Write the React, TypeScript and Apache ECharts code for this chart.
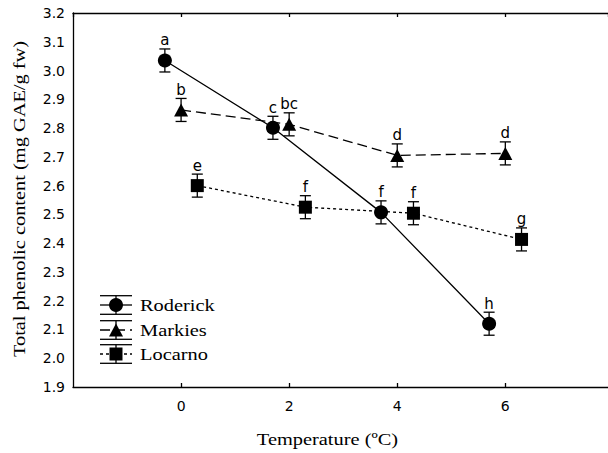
import React, { useEffect, useRef } from "react";
import * as echarts from "echarts";

const seriesNames = ["Roderick", "Markies", "Locarno"];
const roderickX = [-0.3, 1.7, 3.7, 5.7];
const roderickY = [3.035, 2.801, 2.507, 2.12];
const roderickErr = [0.04, 0.04, 0.04, 0.04];
const roderickLetters = ["a", "c", "f", "h"];
const markiesX = [0, 2, 4, 6];
const markiesY = [2.863, 2.813, 2.705, 2.712];
const markiesErr = [0.04, 0.04, 0.04, 0.04];
const markiesLetters = ["b", "bc", "d", "d"];
const locarnoX = [0.3, 2.3, 4.3, 6.3];
const locarnoY = [2.6, 2.525, 2.504, 2.413];
const locarnoErr = [0.04, 0.04, 0.04, 0.04];
const locarnoLetters = ["e", "f", "f", "g"];
const xTicks = [0, 2, 4, 6];

const groups = [
  { name: seriesNames[0], x: roderickX, y: roderickY, err: roderickErr, letters: roderickLetters, symbol: "circle", size: 14, dash: "solid" as any },
  { name: seriesNames[1], x: markiesX, y: markiesY, err: markiesErr, letters: markiesLetters, symbol: "triangle", size: [14, 13], dash: [10, 5] as any },
  { name: seriesNames[2], x: locarnoX, y: locarnoY, err: locarnoErr, letters: locarnoLetters, symbol: "rect", size: 13, dash: [3, 3] as any },
];

export default function App() {
  const ref = useRef<HTMLDivElement>(null);
  useEffect(() => {
    if (!ref.current) return;
    const chart = echarts.init(ref.current, null, { renderer: "svg" });
    const series: any[] = [];
    groups.forEach((g) => {
      series.push({
        type: "line",
        name: g.name,
        data: g.x.map((x, i) => [x, g.y[i]]),
        symbol: g.symbol,
        symbolSize: g.size,
        showAllSymbol: true,
        itemStyle: { color: "#000" },
        lineStyle: { color: "#000", width: 1.3, type: g.dash },
        z: 3,
      });
      series.push({
        type: "custom",
        name: g.name + " err",
        data: g.x.map((x, i) => [x, g.y[i], g.err[i]]),
        z: 4,
        renderItem: (params: any, api: any) => {
          const x = api.value(0);
          const y = api.value(1);
          const e = api.value(2);
          const top = api.coord([x, y + e]);
          const bot = api.coord([x, y - e]);
          const hw = 5.5;
          const st = { stroke: "#000", lineWidth: 1.3 };
          return {
            type: "group",
            children: [
              { type: "line", shape: { x1: top[0], y1: top[1], x2: bot[0], y2: bot[1] }, style: st },
              { type: "line", shape: { x1: top[0] - hw, y1: top[1], x2: top[0] + hw, y2: top[1] }, style: st },
              { type: "line", shape: { x1: bot[0] - hw, y1: bot[1], x2: bot[0] + hw, y2: bot[1] }, style: st },
              {
                type: "text",
                x: top[0],
                y: top[1] - 1,
                style: {
                  text: g.letters[params.dataIndex],
                  textAlign: "center",
                  textVerticalAlign: "bottom",
                  font: "15px 'DejaVu Sans'",
                  fill: "#000",
                },
              },
            ],
          };
        },
      });
    });

    const legendRows = [305, 330, 354];
    const legendGraphics: any[] = [];
    groups.forEach((g, i) => {
      const cy = legendRows[i];
      const x0 = 100, x1 = 132, cx = 116;
      const st = { stroke: "#000", lineWidth: 1.3 };
      legendGraphics.push(
        { type: "line", shape: { x1: x0, y1: cy - 9.3, x2: x1, y2: cy - 9.3 }, style: st },
        { type: "line", shape: { x1: x0, y1: cy + 9.3, x2: x1, y2: cy + 9.3 }, style: st },
        { type: "line", shape: { x1: cx, y1: cy - 9.3, x2: cx, y2: cy + 9.3 }, style: st },
        { type: "line", shape: { x1: x0, y1: cy, x2: x1, y2: cy }, style: { stroke: "#000", lineWidth: 1.3, lineDash: g.dash === "solid" ? null : g.dash } }
      );
      if (g.symbol === "circle") {
        legendGraphics.push({ type: "circle", shape: { cx, cy, r: 7 }, style: { fill: "#000" } });
      } else if (g.symbol === "triangle") {
        legendGraphics.push({ type: "polygon", shape: { points: [[cx, cy - 6.5], [cx - 7, cy + 6.5], [cx + 7, cy + 6.5]] }, style: { fill: "#000" } });
      } else {
        legendGraphics.push({ type: "rect", shape: { x: cx - 6.5, y: cy - 6.5, width: 13, height: 13 }, style: { fill: "#000" } });
      }
      legendGraphics.push({
        type: "text",
        x: 140,
        y: cy,
        scaleX: 1.2,
        style: { text: g.name, font: "17px 'Liberation Serif'", fill: "#000", textVerticalAlign: "middle", textAlign: "left" },
      });
    });

    const axisCommon = {
      type: "value",
      min: -2,
      max: 7.9,
      interval: 2,
      splitLine: { show: false },
      axisLine: { show: true, onZero: false, lineStyle: { color: "#000", width: 1.3 } },
      axisTick: { show: true, inside: true, length: 4, lineStyle: { color: "#000", width: 1.3 } },
    };

    chart.setOption({
      animation: false,
      backgroundColor: "#fff",
      grid: { left: 73, top: 13, right: 0, bottom: 66, containLabel: false },
      xAxis: [
        {
          ...axisCommon,
          position: "bottom",
          axisLabel: {
            margin: 12,
            color: "#000",
            fontSize: 14,
            fontFamily: "DejaVu Sans",
            showMinLabel: false,
            showMaxLabel: false,
            formatter: (v: number) => (xTicks.includes(v) ? String(v) : ""),
          },
        },
        { ...axisCommon, position: "top", axisLabel: { show: false } },
      ],
      yAxis: {
        type: "value",
        min: 1.9,
        max: 3.2,
        interval: 0.1,
        splitLine: { show: false },
        axisLine: { show: true, onZero: false, lineStyle: { color: "#000", width: 1.3 } },
        axisTick: { show: false },
        axisLabel: {
          margin: 8,
          color: "#000",
          fontSize: 14,
          fontFamily: "DejaVu Sans",
          formatter: (v: number) => v.toFixed(1),
        },
      },
      graphic: [
        ...legendGraphics,
        {
          type: "text",
          x: 327.5,
          y: 439,
          scaleX: 1.2,
          style: { text: "Temperature (ºC)", font: "17px 'Liberation Serif'", fill: "#000", textAlign: "center", textVerticalAlign: "middle" },
        },
        {
          type: "text",
          x: 19.5,
          y: 199,
          rotation: Math.PI / 2,
          scaleX: 1.2,
          style: { text: "Total phenolic content (mg GAE/g fw)", font: "17px 'Liberation Serif'", fill: "#000", textAlign: "center", textVerticalAlign: "middle" },
        },
      ],
      series,
    });
    return () => chart.dispose();
  }, []);
  return <div ref={ref} style={{ width: 608, height: 453, position: "absolute", left: 0, top: 0 }} />;
}
